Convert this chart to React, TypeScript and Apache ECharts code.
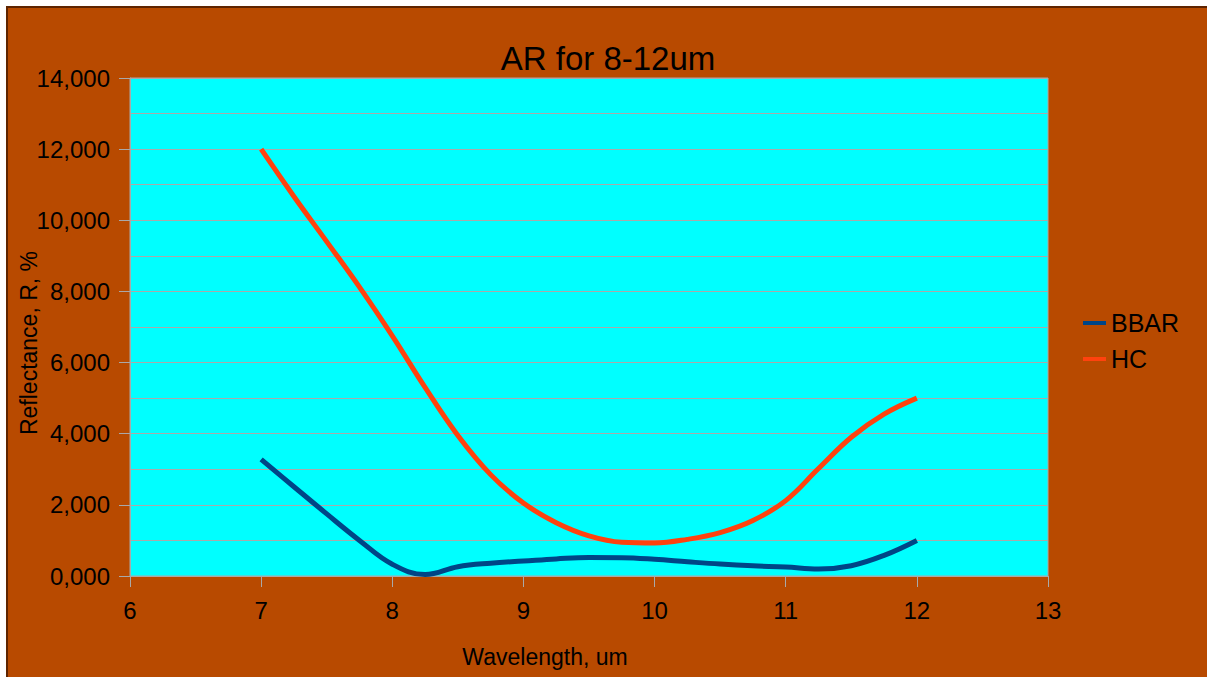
import React, { useEffect, useRef } from "react";
import * as echarts from "echarts";

const wavelengths = [7, 7.25, 7.5, 7.75, 8, 8.25, 8.5, 8.75, 9, 9.25, 9.5, 9.75, 10, 10.25, 10.5, 10.75, 11, 11.25, 11.5, 11.75, 12];
const bbarValues = [3280, 2510, 1745, 1000, 330, 40, 260, 360, 420, 480, 520, 515, 470, 400, 335, 285, 250, 195, 290, 580, 1000];
const hcValues = [12000, 10670, 9400, 8120, 6750, 5300, 3950, 2850, 2050, 1500, 1130, 950, 930, 1030, 1220, 1560, 2120, 3020, 3900, 4550, 5000];
const seriesNames = ["BBAR", "HC"];
const titleText = "AR for 8-12um";
const xAxisName = "Wavelength, um";
const yAxisName = "Reflectance, R, %";

const FONT = "'Liberation Sans', Arial, sans-serif";

export default function App() {
  const ref = useRef<HTMLDivElement>(null);
  useEffect(() => {
    if (!ref.current) return;
    const chart = echarts.init(ref.current, undefined, { renderer: "svg" });
    const toPairs = (vals: number[]) => wavelengths.map((x, i) => [x, vals[i]]);
    chart.setOption({
      animation: false,
      backgroundColor: "transparent",
      textStyle: { fontFamily: FONT },
      grid: {
        left: 130,
        right: 159,
        top: 78,
        bottom: 101,
        show: true,
        backgroundColor: "#00FFFF",
        borderColor: "#A9A9A9",
        borderWidth: 1,
      },
      legend: {
        orient: "vertical",
        left: 1083,
        top: 308,
        padding: 0,
        itemGap: 6,
        icon: "rect",
        itemWidth: 23,
        itemHeight: 4,
        textStyle: { fontSize: 25, color: "#000", fontFamily: FONT, lineHeight: 30 },
        data: seriesNames,
      },
      xAxis: {
        type: "value",
        min: 6,
        max: 13,
        interval: 1,
        axisLine: { show: true, lineStyle: { color: "#A9A9A9", width: 1 } },
        axisTick: { show: true, length: 11, lineStyle: { color: "#A9A9A9" } },
        axisLabel: { fontSize: 24, color: "#000", margin: 22, fontFamily: FONT },
        splitLine: { show: false },
      },
      yAxis: {
        type: "value",
        min: 0,
        max: 14000,
        interval: 2000,
        axisLine: { show: true, lineStyle: { color: "#A9A9A9", width: 1 } },
        axisTick: { show: true, length: 11, lineStyle: { color: "#A9A9A9" } },
        axisLabel: {
          fontSize: 24,
          color: "#000",
          margin: 20,
          fontFamily: FONT,
          formatter: (v: number) => `${Math.round(v / 1000)},000`,
        },
        splitLine: { show: true, lineStyle: { color: "#A9A9A9", width: 1 } },
        minorTick: { show: false, splitNumber: 2 },
        minorSplitLine: { show: true, lineStyle: { color: "#A9A9A9", width: 1 } },
      },
      graphic: [
        {
          type: "text",
          x: 608,
          y: 58,
          style: {
            text: titleText,
            fontSize: 33,
            fontFamily: FONT,
            fill: "#000",
            textAlign: "center",
            textVerticalAlign: "middle",
          },
        },
        {
          type: "text",
          x: 545,
          y: 657,
          style: {
            text: xAxisName,
            fontSize: 23,
            fontFamily: FONT,
            fill: "#000",
            textAlign: "center",
            textVerticalAlign: "middle",
          },
        },
        {
          type: "text",
          x: 29,
          y: 343,
          rotation: Math.PI / 2,
          style: {
            text: yAxisName,
            fontSize: 23,
            fontFamily: FONT,
            fill: "#000",
            textAlign: "center",
            textVerticalAlign: "middle",
          },
        },
      ],
      series: [
        {
          name: seriesNames[0],
          type: "line",
          data: toPairs(bbarValues),
          smooth: 0.4,
          showSymbol: false,
          symbol: "none",
          lineStyle: { color: "#004586", width: 5 },
          itemStyle: { color: "#004586" },
        },
        {
          name: seriesNames[1],
          type: "line",
          data: toPairs(hcValues),
          smooth: 0.4,
          showSymbol: false,
          symbol: "none",
          lineStyle: { color: "#FF420E", width: 5 },
          itemStyle: { color: "#FF420E" },
        },
      ],
    });
    return () => chart.dispose();
  }, []);
  return (
    <div style={{ position: "fixed", left: 0, top: 0, width: 1207, height: 677, background: "#fff", overflow: "hidden" }}>
      <div
        style={{
          position: "absolute",
          left: 6,
          top: 6,
          width: 1210,
          height: 680,
          background: "#B84A00",
          borderLeft: "2px solid #5E2400",
          borderTop: "2px solid #5E2400",
        }}
      />
      <div ref={ref} style={{ position: "absolute", left: 0, top: 0, width: 1207, height: 677 }} />
    </div>
  );
}
